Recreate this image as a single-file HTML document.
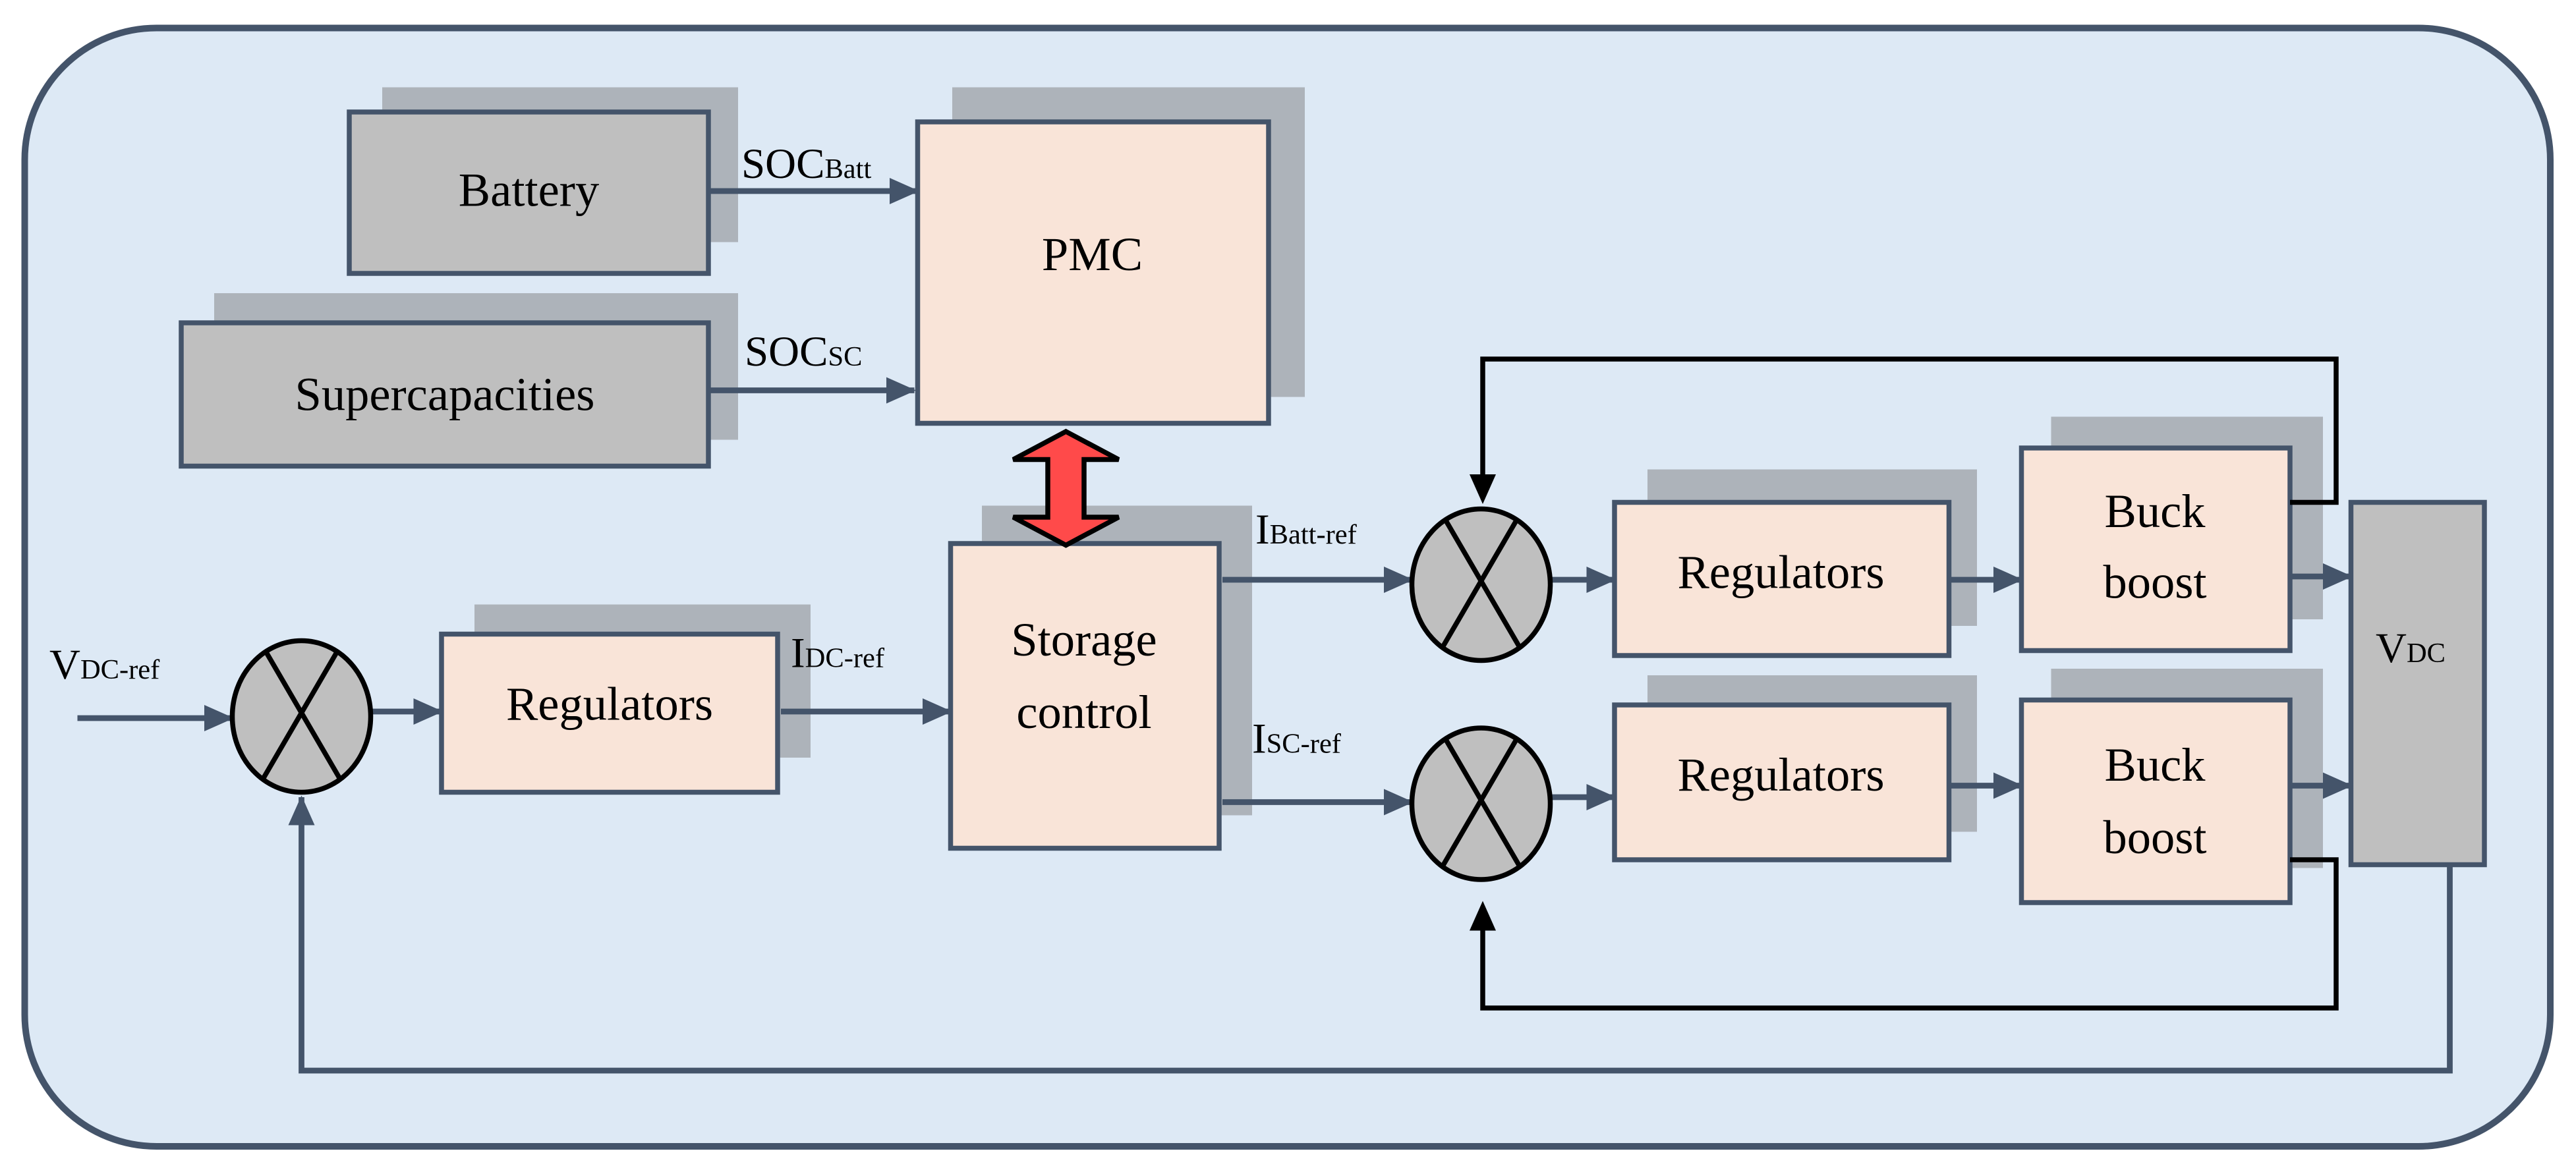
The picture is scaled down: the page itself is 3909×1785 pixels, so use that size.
<!DOCTYPE html>
<html><head><meta charset="utf-8"><style>html,body{margin:0;padding:0;background:#fff}svg{display:block}svg text,svg tspan{font-family:"Liberation Serif","Times New Roman",Times,serif !important}</style></head>
<body>
<svg width="3909" height="1785" viewBox="0 0 1563.6 714" xmlns="http://www.w3.org/2000/svg" style="font-family:'Liberation Serif',serif">
<defs>
<marker id="a" markerWidth="18" markerHeight="16" refX="17" refY="8" orient="auto" markerUnits="userSpaceOnUse" viewBox="0 0 18 16"><path d="M0,0 L18,8 L0,16z" fill="#44546a"/></marker>
</defs>
<rect x="15" y="17" width="1533" height="679" rx="80" fill="#dde9f5" stroke="#44546a" stroke-width="4"/>
<g fill="#adb3ba">
<rect x="232" y="53" width="216" height="94"/>
<rect x="130" y="178" width="318" height="89"/>
<rect x="578" y="53" width="214" height="188"/>
<rect x="596" y="307" width="164" height="188"/>
<rect x="288" y="367" width="204" height="93"/>
<rect x="1000" y="285" width="200" height="95"/>
<rect x="1000" y="410" width="200" height="95"/>
<rect x="1245" y="253" width="165" height="123"/>
<rect x="1245" y="406" width="165" height="121"/>
</g>
<g stroke="#44546a" stroke-width="3">
<rect x="212" y="68" width="218" height="98" fill="#bfbfbf"/>
<rect x="110" y="196" width="320" height="87" fill="#bfbfbf"/>
<rect x="557" y="74" width="213" height="183" fill="#f9e4d8"/>
<rect x="577" y="330" width="163" height="185" fill="#f9e4d8"/>
<rect x="268" y="385" width="204" height="96" fill="#f9e4d8"/>
<rect x="980" y="305" width="203" height="93" fill="#f9e4d8"/>
<rect x="980" y="428" width="203" height="94" fill="#f9e4d8"/>
<rect x="1227" y="272" width="163" height="123" fill="#f9e4d8"/>
<rect x="1227" y="425" width="163" height="123" fill="#f9e4d8"/>
<rect x="1427" y="305" width="81" height="220" fill="#bfbfbf"/>
</g>
<g stroke="#44546a" stroke-width="3.5" fill="none" marker-end="url(#a)">
<line x1="430" y1="116" x2="557" y2="116"/>
<line x1="430" y1="237" x2="555" y2="237"/>
<line x1="47" y1="436" x2="141" y2="436"/>
<line x1="225" y1="432" x2="268" y2="432"/>
<line x1="474" y1="432" x2="577" y2="432"/>
<line x1="742" y1="352" x2="857" y2="352"/>
<line x1="742" y1="487" x2="857" y2="487"/>
<line x1="941" y1="352" x2="980" y2="352"/>
<line x1="941" y1="484" x2="980" y2="484"/>
<line x1="1183" y1="352" x2="1227" y2="352"/>
<line x1="1183" y1="477" x2="1227" y2="477"/>
<line x1="1390" y1="350" x2="1427" y2="350"/>
<line x1="1390" y1="477" x2="1427" y2="477"/>
<polyline points="1487,525 1487,650 183,650 183,484"/>
</g>
<g stroke="#000" stroke-width="3" fill="none">
<polyline points="1390,305 1418,305 1418,218 900,218 900,292"/>
<polyline points="1390,522 1418,522 1418,612 900,612 900,560"/>
</g>
<path d="M892,288 L908,288 L900,306z" fill="#000"/>
<path d="M892,565 L908,565 L900,547z" fill="#000"/>
<g fill="#bfbfbf" stroke="#000" stroke-width="3">
<ellipse cx="183" cy="435" rx="42" ry="46"/>
<ellipse cx="899" cy="355" rx="42" ry="46"/>
<ellipse cx="899" cy="488" rx="42" ry="46"/>
</g>
<g stroke="#000" stroke-width="3">
<line x1="161" y1="395" x2="207" y2="474"/><line x1="205" y1="395" x2="159" y2="474"/>
<line x1="877" y1="315" x2="923" y2="394"/><line x1="921" y1="315" x2="875" y2="394"/>
<line x1="877" y1="448" x2="923" y2="527"/><line x1="921" y1="448" x2="875" y2="527"/>
</g>
<path d="M647,262 L679,279 L658,279 L658,314 L679,314 L647,331 L615,314 L636,314 L636,279 L615,279z" fill="#ff4a4a" stroke="#000" stroke-width="3"/>
<g font-size="29" text-anchor="middle" fill="#000" style="font-family:'Liberation Serif',serif">
<text x="321" y="125">Battery</text>
<text x="270" y="249">Supercapacities</text>
<text x="663" y="164">PMC</text>
<text x="658" y="398">Storage</text>
<text x="658" y="442">control</text>
<text x="370" y="437">Regulators</text>
<text x="1081" y="357">Regulators</text>
<text x="1081" y="480">Regulators</text>
<text x="1308" y="320">Buck</text>
<text x="1308" y="363">boost</text>
<text x="1308" y="474">Buck</text>
<text x="1308" y="518">boost</text>
</g>
<g font-size="26" fill="#000" style="font-family:'Liberation Serif',serif">
<text x="450" y="108">SOC<tspan font-size="17">Batt</tspan></text>
<text x="452" y="222">SOC<tspan font-size="17">SC</tspan></text>
<text x="30" y="412">V<tspan font-size="17">DC-ref</tspan></text>
<text x="480" y="405">I<tspan font-size="17">DC-ref</tspan></text>
<text x="762" y="330">I<tspan font-size="17">Batt-ref</tspan></text>
<text x="760" y="457">I<tspan font-size="17">SC-ref</tspan></text>
<text x="1442" y="402">V<tspan font-size="17">DC</tspan></text>
</g>
</svg>
</body></html>
